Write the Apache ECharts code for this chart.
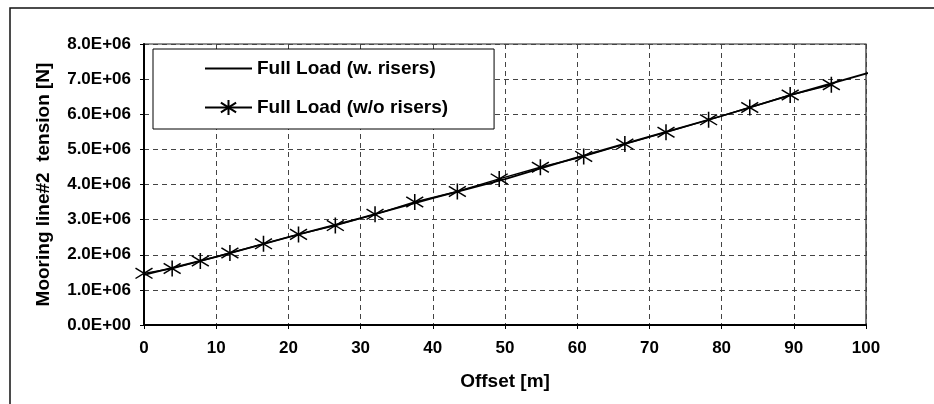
<!DOCTYPE html>
<html>
<head>
<meta charset="utf-8">
<script src="https://cdn.jsdelivr.net/npm/echarts@6/dist/echarts.min.js"></script>
<style>
html,body{margin:0;padding:0;background:#fff;}
#c{width:934px;height:404px;}
</style>
</head>
<body>
<div id="c"></div>
<script>
// Series: Full Load (w. risers) — solid line
var offsetW = [0, 10, 20, 30, 40, 50, 60, 70, 80, 90, 101.4];
var tensionW = [1.43e6, 1.94e6, 2.50e6, 3.04e6, 3.61e6, 4.15e6, 4.77e6, 5.36e6, 5.95e6, 6.57e6, 7.24e6];
// Series: Full Load (w/o risers) — asterisk markers
var offsetWo = [0, 3.9, 7.8, 11.9, 16.55, 21.4, 26.5, 32.0, 37.5, 43.4, 49.2, 54.9, 60.9, 66.6, 72.3, 78.2, 83.9, 89.5, 95.2];
var tensionWo = [1.47e6, 1.61e6, 1.82e6, 2.05e6, 2.31e6, 2.58e6, 2.83e6, 3.15e6, 3.50e6, 3.80e6, 4.16e6, 4.49e6, 4.80e6, 5.15e6, 5.49e6, 5.84e6, 6.19e6, 6.55e6, 6.84e6];
var seriesNames = ['Full Load (w. risers)', 'Full Load (w/o risers)'];
var xTitle = 'Offset [m]';
var yTitle = 'Mooring line#2  tension [N]';

function pairs(xs, ys){ return xs.map(function(x,i){ return [x, ys[i]]; }); }
var FONT = 'Liberation Sans, Arial, sans-serif';
var STAR = 'path://M7,0L7,14M0,2.5L14,11.5M0,11.5L14,2.5';
var chart = echarts.init(document.getElementById('c'), null, {renderer:'canvas'});
chart.setOption({
  animation: false,
  backgroundColor: '#fff',
  graphic: [{
    type: 'rect', z: -10, silent: true,
    shape: {x: 10, y: 8, width: 940, height: 420},
    style: {fill: 'none', stroke: '#111', lineWidth: 1.5}
  }],
  grid: {left: 144, right: 68, top: 44, bottom: 79, show: true, borderColor: '#222', borderWidth: 1.2, backgroundColor: 'transparent'},
  legend: {
    left: 153, top: 49, orient: 'vertical',
    backgroundColor: '#fff', borderColor: '#000', borderWidth: 1,
    padding: [10, 46, 12, 51], itemGap: 20,
    itemWidth: 47, itemHeight: 19,
    textStyle: {fontFamily: FONT, fontWeight: 'bold', fontSize: 19, color: '#000'},
    data: [
      {name: seriesNames[0], itemStyle: {opacity: 0}},
      {name: seriesNames[1]}
    ]
  },
  xAxis: {
    type: 'value', min: 0, max: 100, interval: 10,
    name: xTitle, nameLocation: 'middle', nameGap: 47,
    nameTextStyle: {fontFamily: FONT, fontWeight: 'bold', fontSize: 19, color: '#000'},
    axisLine: {show: true, onZero: false, lineStyle: {color: '#000', width: 2}},
    axisTick: {show: true, length: 4, lineStyle: {color: '#000'}},
    axisLabel: {margin: 15, fontFamily: FONT, fontWeight: 'bold', fontSize: 17, color: '#000'},
    splitLine: {show: true, lineStyle: {color: '#444', width: 1, type: [5, 4]}}
  },
  yAxis: {
    type: 'value', min: 0, max: 8e6, interval: 1e6,
    name: yTitle, nameLocation: 'middle', nameGap: 91, nameRotate: 90,
    nameTextStyle: {fontFamily: FONT, fontWeight: 'bold', fontSize: 19, color: '#000'},
    axisLine: {show: true, onZero: false, lineStyle: {color: '#000', width: 2}},
    axisTick: {show: true, length: 4, lineStyle: {color: '#000'}},
    axisLabel: {margin: 13, fontFamily: FONT, fontWeight: 'bold', fontSize: 17, color: '#000',
      formatter: function(v){ return v === 0 ? '0.0E+00' : (v/1e6).toFixed(1) + 'E+06'; }},
    splitLine: {show: true, lineStyle: {color: '#444', width: 1, type: [5, 4]}}
  },
  series: [{
    name: seriesNames[0], type: 'line', data: pairs(offsetW, tensionW),
    symbol: 'none', clip: false, z: 3,
    lineStyle: {color: '#000', width: 1.8},
    itemStyle: {color: '#000'}
  }, {
    name: seriesNames[1], type: 'line', data: pairs(offsetWo, tensionWo),
    symbol: STAR, symbolSize: [17, 16],
    z: 4,
    lineStyle: {color: '#000', width: 1.5},
    itemStyle: {color: '#000', borderColor: '#000', borderWidth: 1.5}
  }]
});
</script>
</body>
</html>
